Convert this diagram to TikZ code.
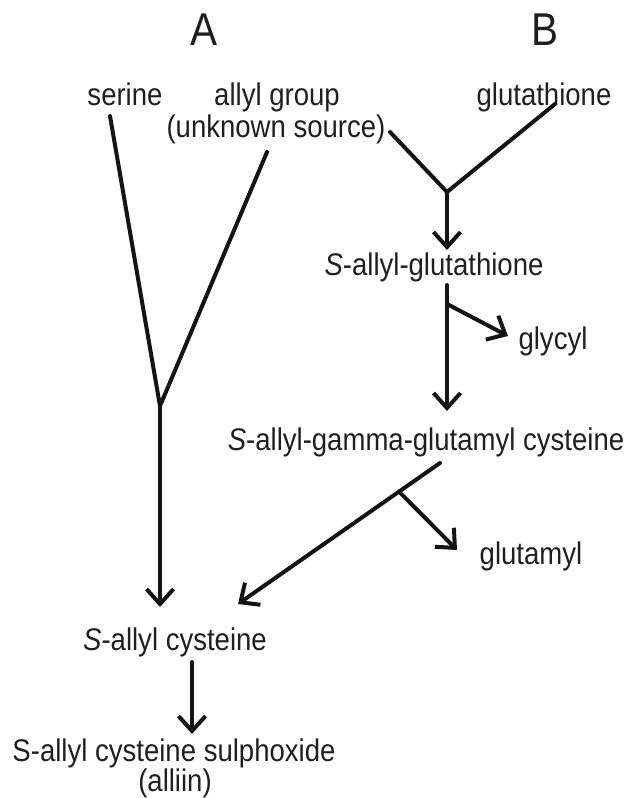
\documentclass[tikz,border=0pt]{standalone}
\usepackage{fontspec}
\setmainfont{Liberation Sans}
\newfontfamily\lblfont[FakeStretch=0.88]{Liberation Sans}
\usetikzlibrary{arrows.meta}
\begin{document}
\begin{tikzpicture}[x=1pt,y=-1pt,
  lbl/.style={inner sep=0pt, anchor=base, text=black!88, font=\lblfont\fontsize{31.3}{34}\selectfont},
  hdr/.style={inner sep=0pt, anchor=base, text=black!88, font=\lblfont\fontsize{46}{50}\selectfont},
  ln/.style={line width=4pt, line cap=round, line join=round, draw=black!92},
  arr/.style={ln, -{Straight Barb[length=15pt,width=27pt,line width=4pt]}}]
\useasboundingbox (0,0) rectangle (628,798);
% headers
\node[hdr] (hA) at (204,45) {A};
\node[hdr] (hB) at (545,45) {B};
% labels
\node[lbl] (serine) at (125,105) {serine};
\node[lbl] (allyl) at (277,105) {allyl group};
\node[lbl] (allylsrc) at (276,137) {(unknown source)};
\node[lbl] (glut) at (544,105) {glutathione};
\node[lbl] (sag) at (434,275) {\textit{S}-allyl-glutathione};
\node[lbl] (glycyl) at (553,349) {glycyl};
\node[lbl] (sagg) at (426,450) {\textit{S}-allyl-gamma-glutamyl cysteine};
\node[lbl] (glutamyl) at (531,564) {glutamyl};
\node[lbl] (sac) at (175,650) {\textit{S}-allyl cysteine};
\node[lbl] (sacs) at (174,761) {S-allyl cysteine sulphoxide};
\node[lbl] (alliin) at (175,791.5) {(alliin)};
% connector points
\coordinate (serS) at (110,116);
\coordinate (allS) at (267,152);
\coordinate (jA) at (160,406);
\coordinate (tipA) at (160,607);
\coordinate (srcE) at (390,132);
\coordinate (gluE) at (555,104);
\coordinate (jB) at (447,192);
\coordinate (tipB1) at (447,250);
\coordinate (sagS) at (447,285);
\coordinate (jG) at (447,304);
\coordinate (tipGly) at (508,336);
\coordinate (tipB2) at (447,411);
\coordinate (saggS) at (440,463);
\coordinate (jGlu) at (399,491.6);
\coordinate (tipGlu) at (457,550);
\coordinate (tipSac) at (238,604);
\coordinate (sacS) at (192,662);
\coordinate (tipSacs) at (192,734);
% pathway A
\draw[ln] (serS) -- (jA) -- (allS);
\draw[arr] (jA) -- (tipA);
% pathway B
\draw[ln] (srcE) -- (jB) -- (gluE);
\draw[arr] (jB) -- (tipB1);
\draw[arr] (sagS) -- (tipB2);
\draw[arr] (jG) -- (tipGly);
\draw[arr] (saggS) -- (tipSac);
\draw[arr] (jGlu) -- (tipGlu);
% final step
\draw[arr] (sacS) -- (tipSacs);
\end{tikzpicture}
\end{document}
